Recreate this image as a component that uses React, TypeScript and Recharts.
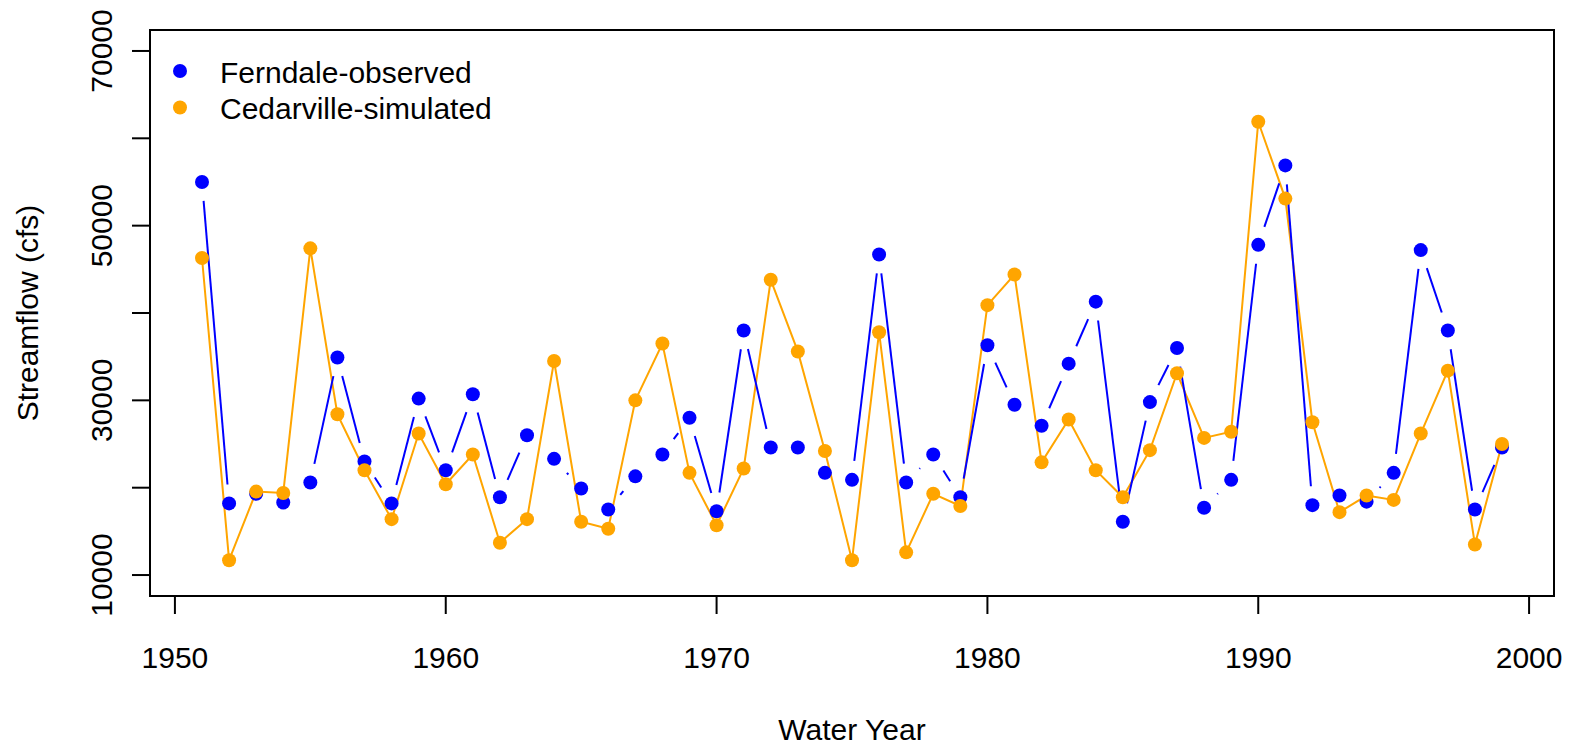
import React from 'react';
import { LineChart, Line, XAxis, YAxis, ReferenceArea, Legend } from 'recharts';

// Water years on the x axis
const years = [
  1951, 1952, 1953, 1954, 1955, 1956, 1957, 1958, 1959, 1960,
  1961, 1962, 1963, 1964, 1965, 1966, 1967, 1968, 1969, 1970,
  1971, 1972, 1973, 1974, 1975, 1976, 1977, 1978, 1979, 1980,
  1981, 1982, 1983, 1984, 1985, 1986, 1987, 1988, 1989, 1990,
  1991, 1992, 1993, 1994, 1995, 1996, 1997, 1998, 1999,
];

// Annual peak streamflow (cfs)
const ferndaleObserved = [
  55000, 18200, 19300, 18300, 20600, 34900, 23000, 18200, 30200, 22000,
  30700, 18900, 26000, 23300, 19900, 17500, 21300, 23800, 28000, 17300,
  38000, 24600, 24600, 21700, 20900, 46700, 20600, 23800, 18900, 36300,
  29500, 27100, 34200, 41300, 16100, 29800, 36000, 17700, 20900, 47800,
  56900, 18000, 19100, 18400, 21700, 47200, 38000, 17500, 24600,
];

const cedarvilleSimulated = [
  46300, 11700, 19550, 19400, 47400, 28400, 22000, 16400, 26200, 20400,
  23800, 13700, 16400, 34500, 16100, 15300, 30000, 36500, 21700, 15700,
  22200, 43800, 35600, 24200, 11700, 37800, 12600, 19300, 17900, 40900,
  44400, 22900, 27800, 22000, 18900, 24300, 33100, 25700, 26400, 61900,
  53100, 27500, 17200, 19100, 18600, 26200, 33400, 13500, 25000,
];

const xTicks = [1950, 1960, 1970, 1980, 1990, 2000];
const yTicks = [10000, 20000, 30000, 40000, 50000, 60000, 70000];
const yTickLabels = [10000, 30000, 50000, 70000];

const X_DOMAIN: [number, number] = [1949.08, 2000.92];
const Y_DOMAIN: [number, number] = [7600, 72400];

const FONT = '"Liberation Sans", Arial, Helvetica, sans-serif';
const BLUE = '#0000FF';
const ORANGE = '#FFA500';

const SERIES = [
  { key: 'ferndale', name: 'Ferndale-observed', color: BLUE },
  { key: 'cedarville', name: 'Cedarville-simulated', color: ORANGE },
];

const rows = years.map((year, i) => ({
  year,
  ferndale: ferndaleObserved[i],
  cedarville: cedarvilleSimulated[i],
}));

// "both" style: point plus a line segment that stops short of each point
const GAP = 19;
const blueCache: { x: number; y: number }[] = [];

function GappedDot(props: any) {
  const { cx, cy, index, points } = props;
  blueCache[index] = { x: cx, y: cy };
  const prev = points && points[index - 1] ? points[index - 1] : blueCache[index - 1];
  let seg = null;
  if (index > 0 && prev && prev.x != null && prev.y != null) {
    const dx = cx - prev.x;
    const dy = cy - prev.y;
    const len = Math.hypot(dx, dy);
    if (len > 2 * GAP) {
      const ux = dx / len;
      const uy = dy / len;
      seg = (
        <line
          x1={prev.x + ux * GAP}
          y1={prev.y + uy * GAP}
          x2={cx - ux * GAP}
          y2={cy - uy * GAP}
          stroke={BLUE}
          strokeWidth={2}
        />
      );
    }
  }
  return (
    <g key={`fd-${index}`}>
      {seg}
      <circle cx={cx} cy={cy} r={7} fill={BLUE} />
    </g>
  );
}

function YTick(props: any) {
  const { x, y, payload } = props;
  if (!yTickLabels.includes(payload.value)) return <g />;
  return (
    <text
      x={x}
      y={y}
      transform={`rotate(-90, ${x}, ${y})`}
      textAnchor="middle"
      fontSize={30}
      fontFamily={FONT}
      fill="#000"
    >
      {payload.value}
    </text>
  );
}

function YTitle(props: any) {
  const vb = props.viewBox || {};
  const cx = (vb.x ?? 0) + 38;
  const cy = (vb.y ?? 0) + (vb.height ?? 0) / 2;
  return (
    <text
      x={cx}
      y={cy}
      transform={`rotate(-90, ${cx}, ${cy})`}
      textAnchor="middle"
      fontSize={30}
      fontFamily={FONT}
      fill="#000"
    >
      Streamflow (cfs)
    </text>
  );
}

function XTitle(props: any) {
  const vb = props.viewBox || {};
  const cx = (vb.x ?? 0) + (vb.width ?? 0) / 2;
  const cy = (vb.y ?? 0) + (vb.height ?? 0) - 5;
  return (
    <text x={cx} y={cy} textAnchor="middle" fontSize={30} fontFamily={FONT} fill="#000">
      Water Year
    </text>
  );
}

function LegendBox() {
  return (
    <svg width={560} height={140} style={{ display: 'block' }}>
      {SERIES.map((s, i) => (
        <g key={s.key}>
          <circle cx={180} cy={71 + i * 36.5} r={7} fill={s.color} />
          <text x={220} y={82.5 + i * 36.5} fontSize={30} fontFamily={FONT} fill="#000">
            {s.name}
          </text>
        </g>
      ))}
    </svg>
  );
}

export default function App() {
  return (
    <div style={{ position: 'absolute', left: 0, top: 0, width: 1576, height: 745, background: '#fff' }}>
      <LineChart
        width={1576}
        height={745}
        data={rows}
        margin={{ top: 30, right: 22, left: 0, bottom: 0 }}
        style={{ fontFamily: FONT }}
      >
        <XAxis
          dataKey="year"
          type="number"
          domain={X_DOMAIN}
          ticks={xTicks}
          interval={0}
          allowDataOverflow
          height={149}
          tickSize={18}
          tickMargin={33}
          axisLine={false}
          tickLine={{ stroke: '#000', strokeWidth: 2 }}
          tick={{ fill: '#000', fontSize: 30, fontFamily: FONT }}
          label={XTitle}
        />
        <YAxis
          type="number"
          domain={Y_DOMAIN}
          ticks={yTicks}
          interval={0}
          allowDataOverflow
          width={150}
          tickSize={18}
          tickMargin={20}
          axisLine={false}
          tickLine={{ stroke: '#000', strokeWidth: 2 }}
          tick={<YTick />}
          label={YTitle}
        />
        <ReferenceArea
          x1={X_DOMAIN[0]}
          x2={X_DOMAIN[1]}
          y1={Y_DOMAIN[0]}
          y2={Y_DOMAIN[1]}
          fill="none"
          fillOpacity={0}
          stroke="#000"
          strokeWidth={2}
          ifOverflow="visible"
        />
        <Line
          dataKey="ferndale"
          name="Ferndale-observed"
          stroke={BLUE}
          strokeOpacity={0}
          dot={GappedDot}
          activeDot={false}
          isAnimationActive={false}
        />
        <Line
          dataKey="cedarville"
          name="Cedarville-simulated"
          stroke={ORANGE}
          strokeWidth={2}
          dot={{ r: 7, fill: ORANGE, stroke: 'none', strokeWidth: 0 }}
          activeDot={false}
          isAnimationActive={false}
        />
        <Legend
          layout="vertical"
          align="center"
          verticalAlign="middle"
          content={<LegendBox />}
          wrapperStyle={{ left: 0, top: 0, width: 560, height: 140 }}
        />
      </LineChart>
    </div>
  );
}
